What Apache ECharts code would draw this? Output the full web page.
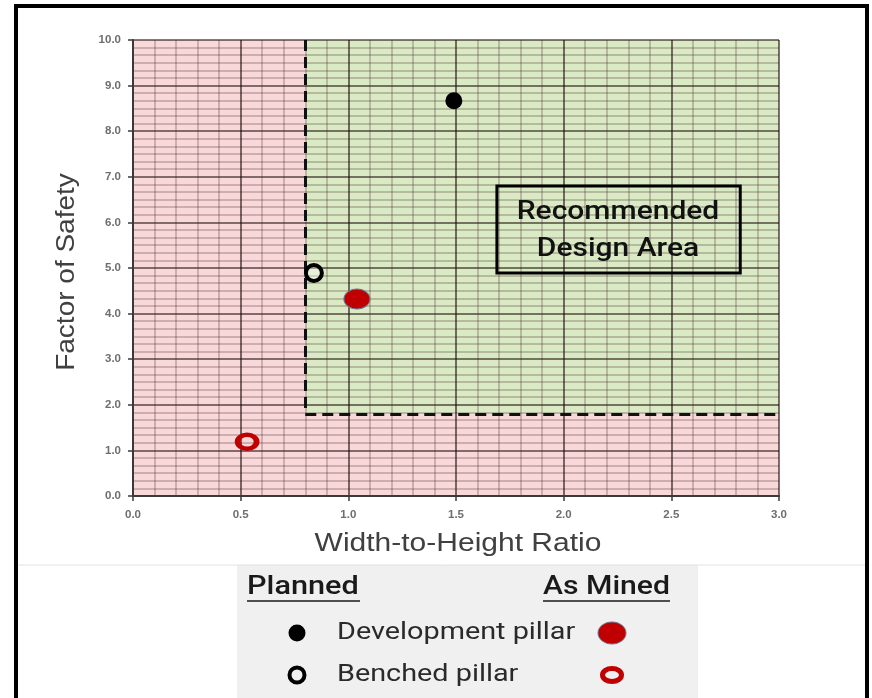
<!DOCTYPE html>
<html><head><meta charset="utf-8">
<script src="https://cdn.jsdelivr.net/npm/echarts@6/dist/echarts.min.js"></script>
<style>html,body{margin:0;padding:0;background:#fff}#c{width:872px;height:698px}</style>
</head><body><div id="c"></div>
<script>
// ---- data ----
const xTicks = [0.0, 0.5, 1.0, 1.5, 2.0, 2.5, 3.0];
const yTicks = [0, 1, 2, 3, 4, 5, 6, 7, 8, 9, 10];
const plannedDevelopment = [[1.49, 8.67]];
const plannedBenched = [[0.84, 4.89]];
const minedDevelopment = [[1.04, 4.32]];
const minedBenched = [[0.53, 1.19]];
// zones: [xMin, yMin, xMax, yMax]
const unsafeZone = [0, 0, 3, 10];
const designZone = [0.8, 1.8, 3, 10];
const designBoundary = [[0.8, 10], [0.8, 1.8], [3, 1.8]];
const annotationBox = [[1.69, 6.8], [2.82, 4.89]];
const annotationLines = ['Recommended', 'Design Area'];
const legendHeaders = ['Planned', 'As Mined'];
const legendRows = ['Development pillar', 'Benched pillar'];
const xTitle = 'Width-to-Height Ratio';
const yTitle = 'Factor of Safety';

const zoneColors = ['#F9D8D9', '#DAEAC5'];
const ELLIPSE = 'path://M0,50 A50,50 0 1 1 100,50 A50,50 0 1 1 0,50 Z';
const DIN = 'Roboto, "Noto Sans", sans-serif';
const ARIAL = '"Liberation Sans", Arial, sans-serif';

const chart = echarts.init(document.getElementById('c'), null, {renderer: 'canvas'});

const axisCommon = {
  axisLine: {show: true, lineStyle: {color: '#3a3a3a', width: 2}},
  axisTick: {show: true, length: 5, inside: false, lineStyle: {color: '#3a3a3a', width: 1.5}},
  splitLine: {show: true, lineStyle: {color: 'rgba(30,12,12,0.72)', width: 1.6}},
  minorSplitLine: {show: true, lineStyle: {color: 'rgba(60,30,30,0.3)', width: 1.5}}
};

const option = {
  backgroundColor: '#ffffff',
  animation: false,
  grid: {left: 133, right: 93, top: 40, bottom: 202, containLabel: false},
  xAxis: Object.assign({
    type: 'value', min: xTicks[0], max: xTicks[xTicks.length - 1], interval: xTicks[1] - xTicks[0],
    axisLabel: {formatter: v => v.toFixed(1), color: '#6e6e6e', fontSize: 11.5, fontWeight: 'bold', fontFamily: ARIAL, margin: 13},
    minorTick: {show: false, splitNumber: 5}
  }, axisCommon),
  yAxis: Object.assign({
    type: 'value', min: yTicks[0], max: yTicks[yTicks.length - 1], interval: yTicks[1] - yTicks[0],
    axisLabel: {formatter: v => v.toFixed(1), color: '#6e6e6e', fontSize: 11.5, fontWeight: 'bold', fontFamily: ARIAL, margin: 12},
    minorTick: {show: false, splitNumber: 6}
  }, axisCommon),
  series: [
    {
      name: 'zones', type: 'custom', z: -10, silent: true,
      data: [unsafeZone, designZone],
      encode: {x: [0, 2], y: [1, 3]},
      renderItem: function (params, api) {
        const p0 = api.coord([api.value(0), api.value(3)]);
        const p1 = api.coord([api.value(2), api.value(1)]);
        return {type: 'rect', shape: {x: p0[0], y: p0[1], width: p1[0] - p0[0], height: p1[1] - p0[1]},
          style: {fill: zoneColors[params.dataIndex]}};
      }
    },
    {
      name: 'boundary', type: 'scatter', data: [], silent: true, z: 4,
      markLine: {
        silent: true, symbol: ['none', 'none'], label: {show: false},
        lineStyle: {color: '#111', width: 3, type: [11, 6]},
        data: [
          [{coord: designBoundary[0]}, {coord: designBoundary[1]}],
          [{coord: designBoundary[1]}, {coord: designBoundary[2]}]
        ]
      }
    },
    {
      name: 'annotation', type: 'scatter', data: [], silent: true, z: 4,
      markArea: {
        silent: true,
        itemStyle: {color: 'rgba(0,0,0,0)', borderColor: '#000', borderWidth: 3, opacity: 1},
        label: {show: false},
        data: [[{coord: annotationBox[0]}, {coord: annotationBox[1]}]]
      }
    },
    {
      name: 'Planned Development pillar', type: 'scatter', data: plannedDevelopment, z: 20,
      symbol: 'circle', symbolSize: 17, itemStyle: {color: '#000', opacity: 1}
    },
    {
      name: 'Planned Benched pillar', type: 'scatter', data: plannedBenched, z: 20,
      symbol: 'circle', symbolSize: 16, itemStyle: {color: 'rgba(255,255,255,0.35)', borderColor: '#000', borderWidth: 4, opacity: 1}
    },
    {
      name: 'As Mined Development pillar', type: 'scatter', data: minedDevelopment, z: 20,
      symbol: ELLIPSE, symbolSize: [26, 20], itemStyle: {color: '#C00000', borderColor: '#6a7390', borderWidth: 1, opacity: 1}
    },
    {
      name: 'As Mined Benched pillar', type: 'scatter', data: minedBenched, z: 20,
      symbol: ELLIPSE, symbolSize: [19, 14], itemStyle: {color: 'rgba(0,0,0,0)', borderColor: '#C00000', borderWidth: 5, opacity: 1}
    }
  ],
  graphic: [
    // axis titles
    {type: 'text', z: 10, x: 458, y: 544, scaleX: 1.2, style: {text: xTitle, font: '25px ' + ARIAL, fill: '#404040', textAlign: 'center', textVerticalAlign: 'middle'}},
    {type: 'text', z: 10, x: 67, y: 272, rotation: Math.PI / 2, scaleX: 1.12, style: {text: yTitle, font: '25px ' + ARIAL, fill: '#404040', textAlign: 'center', textVerticalAlign: 'middle'}},
    // annotation text
    {type: 'text', z: 10, x: 618, y: 213, scaleX: 1.2, style: {text: annotationLines[0], font: '500 25px ' + DIN, fill: '#111', textAlign: 'center', textVerticalAlign: 'middle'}},
    {type: 'text', z: 10, x: 618, y: 250, scaleX: 1.2, style: {text: annotationLines[1], font: '500 25px ' + DIN, fill: '#111', textAlign: 'center', textVerticalAlign: 'middle'}},
    // legend panel
    {type: 'rect', z: 10, shape: {x: 237, y: 565, width: 461, height: 140}, style: {fill: '#F0F0F0'}},
    {type: 'line', z: 10, shape: {x1: 18, y1: 565, x2: 865, y2: 565}, style: {stroke: '#E2E2E2', lineWidth: 1}},
    {type: 'text', z: 11, x: 247, y: 587, scaleX: 1.18, style: {text: legendHeaders[0], font: '500 26px ' + DIN, fill: '#1a1a1a', textVerticalAlign: 'middle'}},
    {type: 'line', z: 11, shape: {x1: 247, y1: 601, x2: 360, y2: 601}, style: {stroke: '#1a1a1a', lineWidth: 1.6}},
    {type: 'text', z: 11, x: 543, y: 587, scaleX: 1.16, style: {text: legendHeaders[1], font: '500 26px ' + DIN, fill: '#1a1a1a', textVerticalAlign: 'middle'}},
    {type: 'line', z: 11, shape: {x1: 543, y1: 601, x2: 670, y2: 601}, style: {stroke: '#1a1a1a', lineWidth: 1.6}},
    {type: 'circle', z: 11, shape: {cx: 297, cy: 633, r: 8.5}, style: {fill: '#000'}},
    {type: 'circle', z: 11, shape: {cx: 297, cy: 675, r: 7.5}, style: {fill: 'none', stroke: '#000', lineWidth: 4}},
    {type: 'text', z: 11, x: 337, y: 633, scaleX: 1.2, style: {text: legendRows[0], font: '24px ' + DIN, fill: '#2a2a2a', textVerticalAlign: 'middle'}},
    {type: 'text', z: 11, x: 337, y: 675, scaleX: 1.2, style: {text: legendRows[1], font: '24px ' + DIN, fill: '#2a2a2a', textVerticalAlign: 'middle'}},
    {type: 'ellipse', z: 11, shape: {cx: 612, cy: 633, rx: 14, ry: 11}, style: {fill: '#C00000', stroke: '#6a7390', lineWidth: 1}},
    {type: 'ellipse', z: 11, shape: {cx: 612, cy: 675, rx: 9.5, ry: 6.5}, style: {fill: 'none', stroke: '#C00000', lineWidth: 5}},
    // outer frame
    {type: 'rect', z: 30, shape: {x: 16, y: 6, width: 851, height: 720}, style: {fill: 'none', stroke: '#000', lineWidth: 4}}
  ]
};
chart.setOption(option);
</script>
</body></html>
